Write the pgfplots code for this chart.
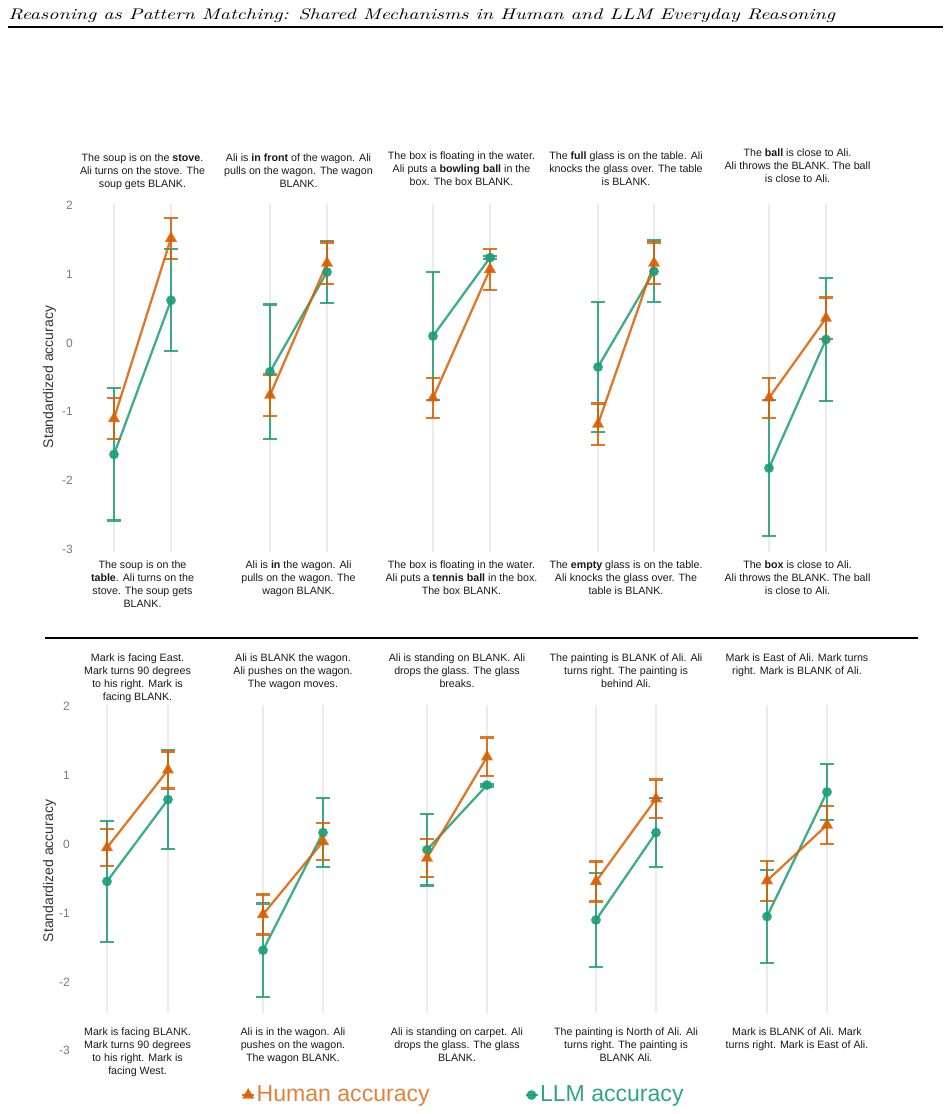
\documentclass[border=0pt]{standalone}
\usepackage{graphicx}
\usepackage{pgfplots}
\pgfplotsset{compat=1.18}
\usepackage{pgfplotstable}
\usepackage{fontspec}
\newfontfamily\arial{Liberation Sans}

\definecolor{human}{HTML}{D95F02}
\definecolor{llm}{HTML}{1B9E77}
\definecolor{gridc}{HTML}{EBEBEB}
\definecolor{txt}{HTML}{1A1A1A}
\definecolor{ticktxt}{HTML}{7A7A7A}
\definecolor{labtxt}{HTML}{333333}
\colorlet{humtxt}{human!78!white}
\colorlet{llmtxt}{llm!92!white}

% columns: condition, human mean, human error, LLM mean, LLM error
\pgfplotstableread{
x hy he ly le
0 -1.10 0.30 -1.62 0.96
1 1.52 0.30 0.62 0.74
}\topA
\pgfplotstableread{
x hy he ly le
0 -0.76 0.30 -0.42 0.98
1 1.16 0.30 1.03 0.45
}\topB
\pgfplotstableread{
x hy he ly le
0 -0.80 0.29 0.10 0.93
1 1.07 0.30 1.24 0.02
}\topC
\pgfplotstableread{
x hy he ly le
0 -1.18 0.30 -0.35 0.95
1 1.16 0.30 1.04 0.45
}\topD
\pgfplotstableread{
x hy he ly le
0 -0.80 0.29 -1.82 0.99
1 0.36 0.30 0.05 0.89
}\topE
\pgfplotstableread{
x hy he ly le
0 -0.05 0.27 -0.54 0.88
1 1.08 0.27 0.65 0.72
}\botA
\pgfplotstableread{
x hy he ly le
0 -1.02 0.29 -1.54 0.68
1 0.04 0.27 0.17 0.50
}\botB
\pgfplotstableread{
x hy he ly le
0 -0.20 0.28 -0.08 0.52
1 1.27 0.28 0.86 0.02
}\botC
\pgfplotstableread{
x hy he ly le
0 -0.54 0.29 -1.10 0.68
1 0.66 0.28 0.17 0.50
}\botD
\pgfplotstableread{
x hy he ly le
0 -0.53 0.29 -1.05 0.68
1 0.28 0.28 0.76 0.41
}\botE

\pgfplotsset{
  panel/.style={scale only axis, height=258pt, xmin=0, xmax=1,
    ymin=-3, ymax=2, clip=false, hide x axis, anchor=south west},
  noy/.style={hide y axis},
  withy/.style={axis y line*=left, y axis line style={draw=none},
    major tick length=0pt, ytick={-3,-2,-1,0,1,2},
    /pgf/number format/assume math mode=true,
    yticklabel style={font=\arial\fontsize{9}{10}\selectfont, text=ticktxt,
      anchor=east, inner sep=0pt, xshift=-#1}},
  bars/.style={error bars/y dir=both, error bars/y explicit,
    error bars/error bar style={line width=1.7pt},
    error bars/error mark options={rotate=90, mark size=4.9pt, line width=1.7pt}},
  llmplot/.style={llm, opacity=0.85, line width=1.7pt, mark=*, mark size=2.8pt,
    mark options={solid}, bars},
  humplot/.style={human, opacity=0.85, line width=1.7pt, mark=triangle*, mark size=3.6pt,
    mark options={solid}, bars},
}

% one panel: two guide lines, then the LLM and the human series
\newcommand{\panelbody}[2]{%
  \addplot[gridc, line width=1.5pt, forget plot] coordinates {(0,2.02) (0,#2)};
  \addplot[gridc, line width=1.5pt, forget plot] coordinates {(1,2.02) (1,#2)};
  \addplot[llmplot, forget plot] table[x=x, y=ly, y error=le] {#1};
  \addplot[humplot, forget plot] table[x=x, y=hy, y error=he] {#1};
}

\begin{document}
\begin{tikzpicture}[x=0.75pt, y=0.75pt,
  ptext/.style={font=\arial\fontsize{8}{9.75}\selectfont, text=txt, align=center,
    inner sep=0pt, anchor=north}]
\path[use as bounding box] (0,0) rectangle (949,1114);

% running head
\node[anchor=base west, inner sep=0pt] at (8,1094)
  {\resizebox{620pt}{8.1pt}{\itshape Reasoning as Pattern Matching: Shared Mechanisms in Human and LLM Everyday Reasoning}};
\draw[line width=1.1pt] (8,1087) -- (943,1087);

% ---------------- top row ----------------
\begin{axis}[panel, withy=30.75pt, width=42.75pt, at={(85.5pt,423.5pt)}]
  \panelbody{\topA}{-3.04}
\end{axis}
\begin{axis}[panel, noy, width=42.75pt, at={(202.5pt,423.5pt)}]
  \panelbody{\topB}{-3.04}
\end{axis}
\begin{axis}[panel, noy, width=42.75pt, at={(324.75pt,423.5pt)}]
  \panelbody{\topC}{-3.04}
\end{axis}
\begin{axis}[panel, noy, width=42pt, at={(448.5pt,423.5pt)}]
  \panelbody{\topD}{-3.04}
\end{axis}
\begin{axis}[panel, noy, width=42.75pt, at={(576.75pt,423.5pt)}]
  \panelbody{\topE}{-3.04}
\end{axis}

% ---------------- bottom row ----------------
\begin{axis}[panel, withy=27.75pt, width=45.75pt, at={(80.25pt,47.5pt)}]
  \panelbody{\botA}{-2.45}
\end{axis}
\begin{axis}[panel, noy, width=45pt, at={(197.25pt,47.5pt)}]
  \panelbody{\botB}{-2.45}
\end{axis}
\begin{axis}[panel, noy, width=45pt, at={(320.25pt,47.5pt)},
  legend style={at={(0.6,-0.129)}, anchor=center, draw=none, fill=none,
    legend columns=2, font=\arial\fontsize{17.3}{20}\selectfont,
    /tikz/every even column/.append style={column sep=70pt},
    inner sep=0pt, nodes={inner sep=1pt}},
  legend image code/.code={\draw[mark repeat=2, mark phase=2, #1]
    plot coordinates {(0pt,0pt) (4.5pt,0pt) (9pt,0pt)};}]
  \panelbody{\botC}{-2.45}
  \addlegendimage{human, opacity=0.85, line width=1.7pt, mark=triangle*, mark size=3.6pt}
  \addlegendentry{\textcolor{humtxt}{Human accuracy}}
  \addlegendimage{llm, opacity=0.85, line width=1.7pt, mark=*, mark size=2.8pt}
  \addlegendentry{\textcolor{llmtxt}{LLM accuracy}}
\end{axis}
\begin{axis}[panel, noy, width=45pt, at={(447pt,47.5pt)}]
  \panelbody{\botD}{-2.45}
\end{axis}
\begin{axis}[panel, noy, width=45pt, at={(575.25pt,47.5pt)}]
  \panelbody{\botE}{-2.45}
\end{axis}

% axis titles
\node[rotate=90, font=\arial\fontsize{10.5}{12}\selectfont, text=labtxt] at (49.5,737) {Standardized accuracy};
\node[rotate=90, font=\arial\fontsize{10.5}{12}\selectfont, text=labtxt] at (49.5,243) {Standardized accuracy};

% row separator
\draw[line width=0.8pt] (45,476) -- (918,476);

% scenario texts, top row (above: first version, below: second version)
\node[ptext] at (142.5,960) {The soup is on the \textbf{stove}.\\Ali turns on the stove. The\\soup gets BLANK.};
\node[ptext] at (298.5,960) {Ali is \textbf{in front} of the wagon. Ali\\pulls on the wagon. The wagon\\BLANK.};
\node[ptext] at (461.5,962) {The box is floating in the water.\\Ali puts a \textbf{bowling ball} in the\\box. The box BLANK.};
\node[ptext] at (626,962) {The \textbf{full} glass is on the table. Ali\\knocks the glass over. The table\\is BLANK.};
\node[ptext] at (797.5,965) {The \textbf{ball} is close to Ali.\\Ali throws the BLANK. The ball\\is close to Ali.};

\node[ptext] at (142.5,553) {The soup is on the\\\textbf{table}. Ali turns on the\\stove. The soup gets\\BLANK.};
\node[ptext] at (298.5,553) {Ali is \textbf{in} the wagon. Ali\\pulls on the wagon. The\\wagon BLANK.};
\node[ptext] at (461.5,553) {The box is floating in the water.\\Ali puts a \textbf{tennis ball} in the box.\\The box BLANK.};
\node[ptext] at (626,553) {The \textbf{empty} glass is on the table.\\Ali knocks the glass over. The\\table is BLANK.};
\node[ptext] at (797.5,553) {The \textbf{box} is close to Ali.\\Ali throws the BLANK. The ball\\is close to Ali.};

% scenario texts, bottom row
\node[ptext] at (137.5,460) {Mark is facing East.\\Mark turns 90 degrees\\to his right. Mark is\\facing BLANK.};
\node[ptext] at (293,460) {Ali is BLANK the wagon.\\Ali pushes on the wagon.\\The wagon moves.};
\node[ptext] at (457,460) {Ali is standing on BLANK. Ali\\drops the glass. The glass\\breaks.};
\node[ptext] at (626,460) {The painting is BLANK of Ali. Ali\\turns right. The painting is\\behind Ali.};
\node[ptext] at (797,460) {Mark is East of Ali. Mark turns\\right. Mark is BLANK of Ali.};

\node[ptext] at (137.5,86) {Mark is facing BLANK.\\Mark turns 90 degrees\\to his right. Mark is\\facing West.};
\node[ptext] at (293,86) {Ali is in the wagon. Ali\\pushes on the wagon.\\The wagon BLANK.};
\node[ptext] at (457,86) {Ali is standing on carpet. Ali\\drops the glass. The glass\\BLANK.};
\node[ptext] at (626,86) {The painting is North of Ali. Ali\\turns right. The painting is\\BLANK Ali.};
\node[ptext] at (797,86) {Mark is BLANK of Ali. Mark\\turns right. Mark is East of Ali.};
\end{tikzpicture}
\end{document}
